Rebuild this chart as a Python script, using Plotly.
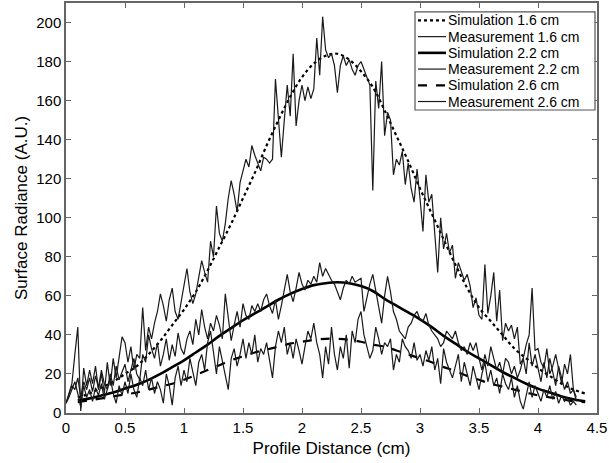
import plotly.graph_objects as go

# ---- Simulation curves (read at 0.1 cm steps) ----
sim_x = [0.1, 0.2, 0.3, 0.4, 0.5, 0.6, 0.7, 0.8, 0.9, 1.0,
         1.1, 1.2, 1.3, 1.4, 1.5, 1.6, 1.7, 1.8, 1.9, 2.0,
         2.1, 2.2, 2.3, 2.4, 2.5, 2.6, 2.7, 2.8, 2.9, 3.0,
         3.1, 3.2, 3.3, 3.4, 3.5, 3.6, 3.7, 3.8, 3.9, 4.0,
         4.1, 4.2, 4.3, 4.4]
sim_16 = [8, 10, 13, 16, 20, 24, 30, 37, 45, 53,
          62, 73, 85, 97, 110, 123, 137, 150, 162, 172,
          179, 183, 184, 181, 175, 167, 155, 142, 129, 115,
          102, 89, 76, 64, 54, 47, 40, 33, 28, 23,
          19, 15, 12, 10]
sim_22 = [6.5, 7.5, 9, 10.5, 12.5, 14.5, 17, 20, 23.5, 27,
          31, 35, 39.5, 43.5, 47.5, 51, 54.5, 58, 61, 63.5,
          65.5, 66.5, 67, 66.5, 65, 62.5, 58.5, 55, 51.5, 48,
          44, 39.5, 35.5, 31.5, 28, 24.5, 21, 18, 15, 12.5,
          10.5, 8.5, 7, 6]
sim_26 = [5.5, 6.5, 7.5, 8.5, 9.5, 10.5, 12, 13.5, 15, 17,
          19.5, 22, 24.5, 27, 29, 31, 32.5, 34, 35.5, 36.5,
          37.5, 38, 38, 37.5, 36.5, 35, 34, 32, 30, 28,
          26, 23.5, 21.5, 19, 17, 15, 13.5, 12, 10.5, 9,
          8, 7, 6, 5.5]

# ---- Measurements (0.025 cm sampling, starting at 0 cm) ----
meas_step = 0.025
meas_16 = [5, 10, 15, 30, 44, 1, 23, 14, 22, 15,
           24, 12, 20, 10, 26, 14, 28, 18, 30, 39,
           36, 26, 34, 22, 30, 28, 54, 32, 44, 38,
           46, 52, 61, 55, 47, 58, 64, 52, 48, 56,
           66, 74, 62, 56, 61, 70, 78, 72, 67, 88,
           80, 106, 92, 88, 97, 110, 119, 112, 103, 118,
           124, 130, 126, 137, 132, 128, 124, 131, 130, 128,
           130, 171, 150, 131, 150, 168, 152, 184, 147, 160,
           168, 160, 167, 161, 166, 192, 173, 203, 186, 182,
           184, 178, 164, 178, 183, 178, 181, 176, 173, 178,
           180, 176, 171, 168, 114, 170, 156, 180, 142, 154,
           150, 122, 130, 127, 134, 117, 128, 115, 108, 125,
           110, 93, 122, 108, 112, 90, 72, 100, 84, 92,
           82, 86, 69, 77, 72, 68, 71, 65, 54, 59,
           50, 48, 76, 51, 60, 72, 47, 63, 37, 46,
           42, 45, 38, 44, 25, 28, 35, 40, 64, 32,
           33, 26, 23, 33, 20, 24, 30, 23, 15, 25,
           20, 30, 12, 8]
meas_22 = [5, 9, 14, 12, 18, 8, 16, 12, 18, 11,
           19, 13, 22, 15, 12, 20, 14, 24, 17, 21,
           25, 16, 22, 28, 20, 17, 30, 26, 40, 33,
           28, 36, 24, 30, 38, 27, 35, 29, 41, 33,
           30, 38, 42, 35, 48, 40, 53, 44, 38, 46,
           42, 50, 45, 38, 61, 50, 37, 45, 52, 44,
           56, 50, 48, 55, 52, 56, 52, 58, 61, 55,
           51, 58, 48, 55, 64, 71, 62, 57, 64, 72,
           66, 63, 68, 66, 70, 67, 77, 70, 74, 71,
           68, 66, 62, 58, 64, 68, 66, 70, 67, 68,
           69, 52, 60, 66, 71, 63, 54, 46, 60, 70,
           62, 52, 48, 42, 40, 38, 44, 46, 50, 52,
           48, 47, 51, 45, 42, 40, 38, 34, 36, 42,
           40, 38, 42, 36, 32, 34, 30, 36, 32, 36,
           28, 22, 30, 24, 34, 28, 22, 26, 20, 28,
           26, 20, 24, 18, 22, 28, 20, 36, 24, 30,
           22, 16, 26, 18, 28, 20, 14, 24, 18, 12,
           16, 10, 12, 6]
meas_26 = [5, 8, 12, 16, 10, 3, 14, 8, 12, 6,
           13, 9, 15, 7, 12, 18, 10, 5, 14, 9,
           16, 10, 20, 12, 8, 18, 14, 22, 12, 18,
           10, 16, 12, 5, 20, 14, 4, 18, 24, 14,
           22, 16, 28, 20, 14, 26, 30, 22, 36, 42,
           30, 20, 34, 26, 18, 12, 28, 33, 24, 30,
           38, 28, 36, 30, 40, 26, 33, 30, 36, 28,
           18, 34, 42, 36, 44, 30, 36, 28, 38, 32,
           25, 34, 42, 38, 46, 36, 30, 18, 34, 25,
           44, 30, 22, 34, 28, 40, 23, 42, 36, 48,
           52, 40, 34, 28, 32, 44, 38, 30, 36, 34,
           38, 22, 30, 26, 38, 34, 32, 28, 36, 27,
           30, 24, 32, 27, 34, 22, 28, 15, 33, 26,
           22, 18, 24, 30, 16, 26, 20, 14, 24, 18,
           12, 20, 26, 16, 22, 14, 18, 10, 20, 15,
           12, 18, 8, 14, 6, 2, 10, 16, 8, 14,
           10, 6, 12, 8, 14, 7, 11, 5, 9, 6,
           8, 4, 6, 4]

series_names = ["Simulation 1.6 cm", "Measurement 1.6 cm", "Simulation 2.2 cm",
                "Measurement 2.2 cm", "Simulation 2.6 cm", "Measurement 2.6 cm"]

x_ticks = [0, 0.5, 1, 1.5, 2, 2.5, 3, 3.5, 4, 4.5]
x_tick_labels = ["0", "0.5", "1", "1.5", "2", "2.5", "3", "3.5", "4", "4.5"]
y_ticks = [0, 20, 40, 60, 80, 100, 120, 140, 160, 180, 200]


def mx(values):
    return [round(i * meas_step, 3) for i in range(len(values))]


sim_styles = {
    "Simulation 1.6 cm": dict(color="black", width=2.2, dash="dot"),
    "Simulation 2.2 cm": dict(color="black", width=2.6, dash="solid"),
    "Simulation 2.6 cm": dict(color="black", width=2.2, dash="dash"),
}
meas_style = dict(color="#1a1a1a", width=1.2, dash="solid")

series_data = [
    (sim_x, sim_16), (mx(meas_16), meas_16),
    (sim_x, sim_22), (mx(meas_22), meas_22),
    (sim_x, sim_26), (mx(meas_26), meas_26),
]

fig = go.Figure()
for name, (xs, ys) in zip(series_names, series_data):
    if name in sim_styles:
        line = dict(sim_styles[name], shape="spline")
    else:
        line = dict(meas_style)
    fig.add_trace(go.Scatter(x=xs, y=ys, mode="lines", name=name, line=line,
                             showlegend=False, hoverinfo="skip"))

# ---- Compact boxed legend (MATLAB style), positioned in paper coordinates ----
plot_l, plot_r, plot_t, plot_b = 66, 597, 1, 413  # plot-area pixels
def px_to_paper_x(px):
    return (px - plot_l) / (plot_r - plot_l)
def py_to_paper_y(py):
    return (plot_b - py) / (plot_b - plot_t)

row_top_px, row_gap_px = 18.5, 16.3
box_px = (415, 10, 595, 10 + 17 + 5 * row_gap_px)
fig.add_shape(type="rect", xref="paper", yref="paper",
              x0=px_to_paper_x(box_px[0]), x1=px_to_paper_x(box_px[2]),
              y0=py_to_paper_y(box_px[3]), y1=py_to_paper_y(box_px[1]),
              line=dict(color="#555555", width=1.2), fillcolor="white", layer="above")
for i, name in enumerate(series_names):
    yy = py_to_paper_y(row_top_px + i * row_gap_px)
    style = sim_styles.get(name, meas_style)
    fig.add_shape(type="line", xref="paper", yref="paper",
                  x0=px_to_paper_x(418), x1=px_to_paper_x(446), y0=yy, y1=yy,
                  line=dict(color=style["color"], width=style["width"], dash=style["dash"]),
                  layer="above")
    fig.add_annotation(xref="paper", yref="paper", x=px_to_paper_x(447), y=yy,
                       xanchor="left", yanchor="middle", text=name, showarrow=False,
                       borderpad=0,
                       font=dict(family="Liberation Sans", size=14, color="black"))

axis_common = dict(showgrid=False, zeroline=False, showline=True, linecolor="#666666",
                   linewidth=1.5, mirror="ticks", ticks="inside", ticklen=5,
                   tickcolor="#666666",
                   tickfont=dict(family="Liberation Sans", size=15, color="black"))

fig.update_layout(
    width=609, height=463,
    margin=dict(l=66, r=12, t=1, b=50),
    paper_bgcolor="white", plot_bgcolor="white",
    font=dict(family="Liberation Sans", color="black"),
    xaxis=dict(range=[0, 4.5], tickvals=x_ticks, ticktext=x_tick_labels,
               title=dict(text="Profile Distance (cm)", font=dict(size=17), standoff=7),
               **axis_common),
    yaxis=dict(range=[0, 210], tickvals=y_ticks,
               title=dict(text="Surface Radiance (A.U.)", font=dict(size=17), standoff=4),
               **axis_common),
    showlegend=False,
    hovermode=False,
)

fig.write_html("out.html", config={"displayModeBar": False},
               post_script="document.body.style.margin='0';")
